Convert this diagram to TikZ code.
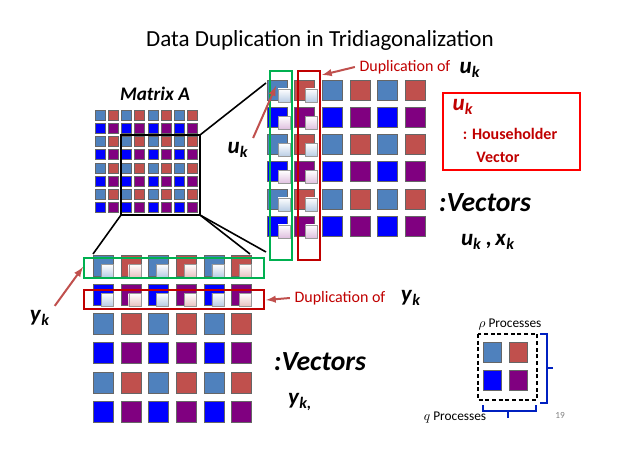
\documentclass[tikz,border=0pt]{standalone}
\usepackage{amsmath}
\usepackage{xcolor}
\usepackage{fontspec}
\setmainfont{Carlito}
\usepackage{tikz}
\definecolor{cSteel}{RGB}{79,129,189}
\definecolor{cRed}{RGB}{192,80,77}
\definecolor{cBlue}{RGB}{0,0,255}
\definecolor{cPurple}{RGB}{128,0,128}
\definecolor{cDup}{RGB}{192,0,0}
\definecolor{cGreen}{RGB}{0,176,80}
\definecolor{cArrow}{RGB}{192,80,77}
\definecolor{cBrace}{RGB}{0,32,192}
\newcommand{\vk}[2]{\textbf{\textit{#1}}\textsubscript{\textbf{\textit{#2}}}}
\tikzset{
  cell/.style={draw=black!60,line width=0.3pt},
  lite/.style={draw=black!40,line width=0.3pt,top color=white,bottom color=#1},
  dupbox/.style={draw=#1,line width=1.5pt},
  redarrow/.style={->,>=latex,draw=cArrow,line width=1.5pt},
}
\begin{document}
\begin{tikzpicture}[x=0.75pt,y=0.75pt,yscale=-1,xscale=1]
\useasboundingbox (0,0) rectangle (638,452);

% Matrix A (8x8)
\foreach \i in {0,...,7}{
  \foreach \j in {0,...,7}{
    \pgfmathsetmacro{\cc}{mod(\i,2)==0 ? (mod(\j,2)==0 ? 1 : 2) : (mod(\j,2)==0 ? 3 : 4)}
    \ifcase\cc\or\def\fc{cSteel}\or\def\fc{cRed}\or\def\fc{cBlue}\or\def\fc{cPurple}\fi
    \draw [cell,fill=\fc] ({95+\j*13.2},{110+\i*13.2}) rectangle ++(10,10);
  }
}
\draw [line width=1pt] (121,135) rectangle (200,215);
\node (matA) at (155,94) [font=\Large\bfseries\itshape] {Matrix A};

% zoom lines
\draw [line width=1.2pt] (200,135) -- (266,83);
\draw [line width=1.2pt] (200,215) -- (266,252);
\draw [line width=1.2pt] (121,215) -- (93,254);
\draw [line width=1.2pt] (200,215) -- (250,254);

% right matrix (6x6)
\foreach \i in {0,...,5}{
  \foreach \j in {0,...,5}{
    \pgfmathsetmacro{\cc}{mod(\i,2)==0 ? (mod(\j,2)==0 ? 1 : 2) : (mod(\j,2)==0 ? 3 : 4)}
    \ifcase\cc\or\def\fc{cSteel}\or\def\fc{cRed}\or\def\fc{cBlue}\or\def\fc{cPurple}\fi
    \draw [cell,fill=\fc] ({267+\j*27.6},{80+\i*27.2}) rectangle ++(20,20);
  }
  \pgfmathsetmacro{\lc}{mod(\i,2)==0 ? 1 : 2}
  \ifnum\lc=1\def\lf{cSteel!40}\else\def\lf{cPurple!25}\fi
  \foreach \j in {0,1}{
    \draw [lite=\lf] ({278+\j*27.6},{89+\i*27.2}) rectangle ++(12,13);
  }
}
\draw [dupbox=cGreen] (270,71) rectangle (292,260);
\draw [dupbox=cDup] (298,71) rectangle (320,260);

% bottom matrix (6x6)
\foreach \i in {0,...,5}{
  \foreach \j in {0,...,5}{
    \pgfmathsetmacro{\cc}{mod(\i,2)==0 ? (mod(\j,2)==0 ? 1 : 2) : (mod(\j,2)==0 ? 3 : 4)}
    \ifcase\cc\or\def\fc{cSteel}\or\def\fc{cRed}\or\def\fc{cBlue}\or\def\fc{cPurple}\fi
    \draw [cell,fill=\fc] ({93+\j*27.7},{255+\i*29.2}) rectangle ++(20,21);
  }
}
\foreach \i in {0,1}{
  \foreach \j in {0,...,5}{
    \pgfmathsetmacro{\lc}{mod(\j,2)==0 ? 1 : 2}
    \ifnum\lc=1\def\lf{cSteel!40}\else\def\lf{cRed!35}\fi
    \draw [lite=\lf] ({101+\j*27.7},{264+\i*29.2}) rectangle ++(12,13);
  }
}
\draw [dupbox=cGreen] (84,258) rectangle (264,278);
\draw [dupbox=cDup] (84,290) rectangle (264,309);

% Text
\node (title) at (320,40) [font=\LARGE] {Data Duplication in Tridiagonalization};
\node (uk1) at (238,150) [font=\LARGE] {\vk{u}{k}};
\draw [redarrow] (uk1.north east) -- (276,86);
\node (dupu) at (405,67) [text=cDup,font=\large] {Duplication of};
\node (uk2) at (470,70) [font=\LARGE] {\vk{u}{k}};
\draw [redarrow] (dupu.west) -- (322,75);
\draw [draw=red,line width=2pt] (443,93) rectangle (580,170);
\node (uk3) at (463,107) [text=cDup,font=\LARGE] {\vk{u}{k}};
\node (hh) at (510,134) [text=cDup,font=\large\bfseries] {: Householder};
\node (vec) at (498,157) [text=cDup,font=\large\bfseries] {Vector};
\node (vecs1) at (485,203) [font=\huge\bfseries\itshape] {:Vectors};
\node (ukxk) at (488,242) [font=\LARGE] {\vk{u}{k}\,\textbf{,}\,\vk{x}{k}};
\node (yk1) at (40,318) [font=\LARGE] {\vk{y}{k}};
\draw [redarrow] (yk1.north east) -- (83,267);
\node (dupy) at (340,298) [text=cDup,font=\large] {Duplication of};
\node (yk2) at (411,298) [font=\LARGE] {\vk{y}{k}};
\draw [redarrow] (dupy.west) -- (266,300);
\node (vecs2) at (320,362) [font=\huge\bfseries\itshape] {:Vectors};
\node (yk3) at (300,402) [font=\LARGE] {\vk{y}{k,}};

% processes
\node (pp) at (510,325) {$\rho$ Processes};
\draw [line width=1.3pt,dash pattern={on 3pt off 2pt}] (478,334) rectangle (537,400);
\draw [cell,fill=cSteel] (483,342) rectangle ++(18,20);
\draw [cell,fill=cRed] (509,342) rectangle ++(18,20);
\draw [cell,fill=cBlue] (483,370) rectangle ++(18,20);
\draw [cell,fill=cPurple] (509,370) rectangle ++(18,20);
\draw [cBrace,line width=1.2pt] (540,334) -- (547,334) -- (547,403) -- (540,403) (547,368) -- (553,368);
\draw [cBrace,line width=1.2pt] (483,405) -- (483,411) -- (536,411) -- (536,405) (508,411) -- (508,418);
\node (qp) at (455,418) {$q$ Processes};
\node (pg) at (560,415) [text=black!50,font=\scriptsize] {19};
\end{tikzpicture}
\end{document}
